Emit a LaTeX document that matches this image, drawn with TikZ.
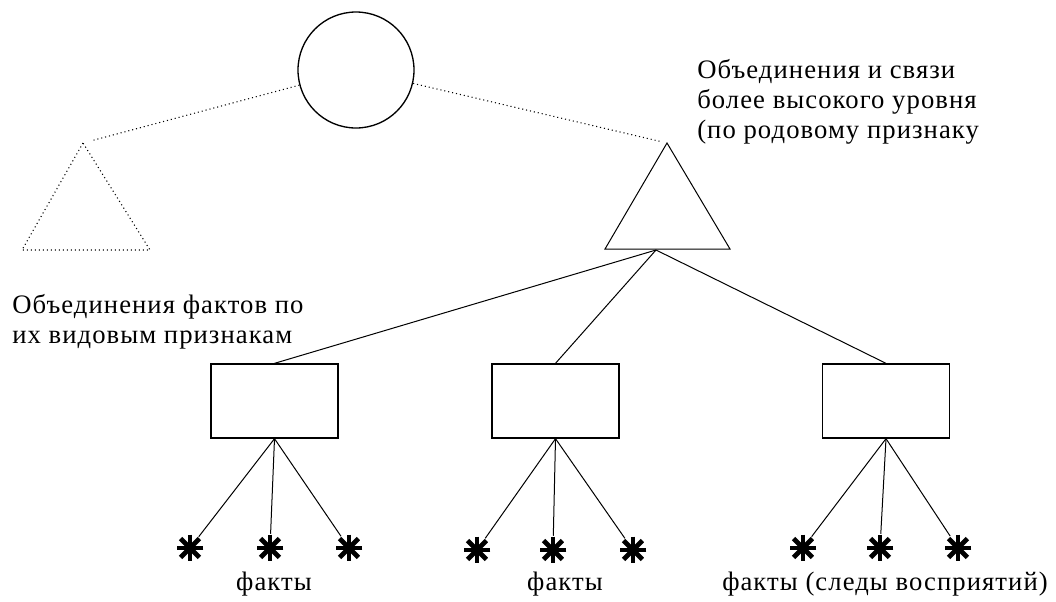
\documentclass[tikz,border=0pt]{standalone}
\usepackage{fontspec}
\setmainfont{Liberation Serif}[LetterSpace=4]

\begin{document}
\begin{tikzpicture}[x=0.75pt,y=-0.75pt,
    thinline/.style={line width=0.75pt},
    dots/.style={line width=0.8pt,dash pattern=on 0.8pt off 2.2pt},
    group/.style={draw,line width=1pt,minimum width=95.25pt,minimum height=55.5pt,inner sep=0pt},
    fact/.style={circle,minimum size=21pt,inner sep=0pt,
      path picture={\foreach \a in {0,45,90,135}
        \draw[line width=3.6pt] (path picture bounding box.center) ++(\a:10pt) -- ++(\a+180:20pt);}},
    caption/.style={font=\fontsize{20}{22.5}\selectfont,inner sep=0pt,align=left}]
   \useasboundingbox (0,0) rectangle (1056,601);

   \node[circle,draw,line width=1pt,minimum size=87pt,inner sep=0pt] (top) at (356,70) {};

   \coordinate (lapex) at (83,143);
   \draw[dots] (lapex) -- (22,250) -- (150,250) -- cycle;
   \coordinate (rapex) at (667,143);
   \draw[thinline] (rapex) -- (605,249) -- (730,249) -- cycle;
   \coordinate (rhub) at (656,250);

   \draw[dots,shorten >=7pt] (top) -- (lapex);
   \draw[dots,shorten >=4pt] (top) -- (rapex);

   \node[group] (boxa) at (274.5,401) {};
   \node[group] (boxb) at (555.5,401) {};
   \node[group] (boxc) at (886,401) {};
   \draw[thinline] (rhub) -- (boxa.north);
   \draw[thinline] (rhub) -- (boxb.north);
   \draw[thinline] (rhub) -- (boxc.north);

   \node[fact] (a1) at (190,548) {};
   \node[fact] (a2) at (270,548) {};
   \node[fact] (a3) at (349,548) {};
   \node[fact] (b1) at (477,550) {};
   \node[fact] (b2) at (553,550) {};
   \node[fact] (b3) at (633,550) {};
   \node[fact] (c1) at (803,548) {};
   \node[fact] (c2) at (880,548) {};
   \node[fact] (c3) at (958,548) {};
   \foreach \g/\b in {a/boxa,b/boxb,c/boxc}
     \foreach \i in {1,2,3}
       \draw[thinline] (\b.south) -- (\g\i);

   \node[caption,anchor=base west] (upper) at (697,138)
     {Объединения и связи\\более высокого уровня\\(по родовому признаку};
   \node[caption,anchor=base west] (lower) at (12,343)
     {Объединения фактов по\\их видовым признакам};
   \node[caption,anchor=base] (capa) at (274,590) {факты};
   \node[caption,anchor=base] (capb) at (565,590) {факты};
   \node[caption,anchor=base east] (capc) at (1048,590) {факты (следы восприятий)};
\end{tikzpicture}
\end{document}
